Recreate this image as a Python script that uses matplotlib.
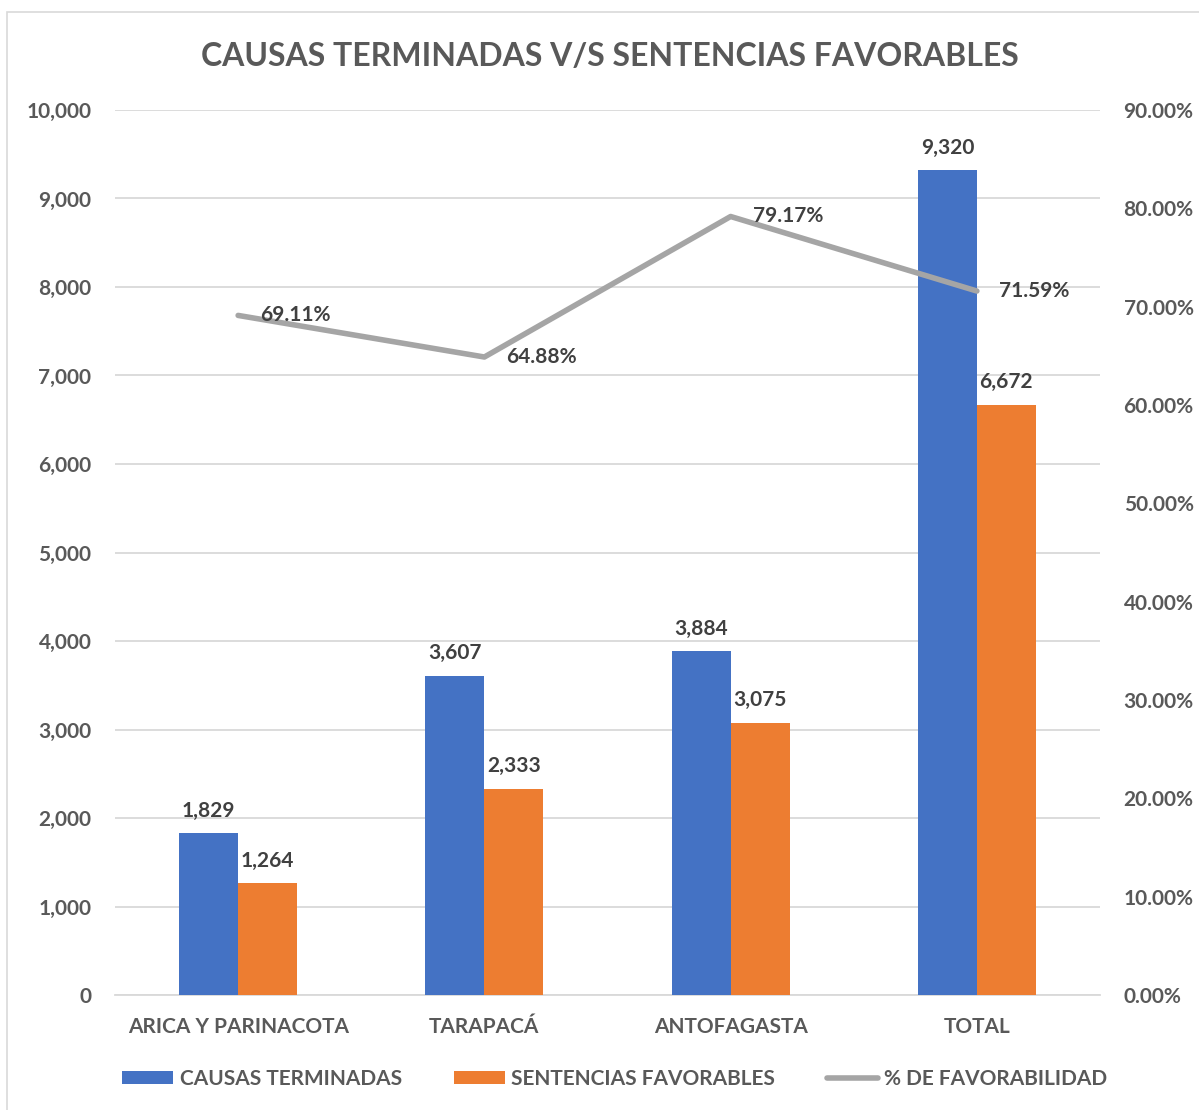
# Causas terminadas v/s sentencias favorables

import numpy as np
import matplotlib
matplotlib.use('Agg')
import matplotlib.pyplot as plt
from matplotlib.patches import Rectangle
from matplotlib.ticker import FuncFormatter

plt.rcParams['font.family'] = ['Lato', 'DejaVu Sans']
plt.rcParams['font.weight'] = 'bold'

# data
regiones = ['ARICA Y PARINACOTA', 'TARAPACÁ', 'ANTOFAGASTA', 'TOTAL']
causas = [1829, 3607, 3884, 9320]
sentencias = [1264, 2333, 3075, 6672]
favorabilidad = [69.11, 64.88, 79.17, 71.59]

azul = '#4472C4'
naranjo = '#ED7D31'
gris = '#A5A5A5'
txt = '#595959'
txt_dark = '#404040'

fig = plt.figure(figsize=(11.99, 11.10), dpi=100)
ax = fig.add_axes([115/1199, 1 - 995/1110, 985/1199, 885/1110])
ax2 = ax.twinx()

# chart border
fig.patches.append(Rectangle((7/1199, -0.1), 1.2, 1 - 12/1110 + 0.1,
                             transform=fig.transFigure, fill=False,
                             edgecolor='#D9D9D9', linewidth=1.2))

x = np.arange(len(regiones))
w = 0.24
b1 = ax.bar(x - w/2, causas, w, color=azul, label='CAUSAS TERMINADAS', zorder=3)
b2 = ax.bar(x + w/2, sentencias, w, color=naranjo, label='SENTENCIAS FAVORABLES', zorder=3)

ax.set_ylim(0, 10000)
ax.set_yticks(np.arange(0, 10001, 1000))
ax.yaxis.set_major_formatter(FuncFormatter(lambda v, p: f'{int(v):,}'))
ax.set_xlim(-0.5, 3.5)
ax.set_xticks(x)
ax.set_xticklabels(regiones)
ax.grid(axis='y', color='#D9D9D9', linewidth=1.3, zorder=0)
ax.set_axisbelow(True)

for s in ['top', 'right', 'left']:
    ax.spines[s].set_visible(False)
    ax2.spines[s].set_visible(False)
ax.spines['bottom'].set_color('#D9D9D9')
ax.spines['bottom'].set_linewidth(1.3)
ax2.spines['bottom'].set_visible(False)

ax.tick_params(axis='both', length=0, labelsize=15, labelcolor=txt)
ax.tick_params(axis='y', pad=17)
ax.tick_params(axis='x', pad=16)

for bars in (b1, b2):
    for b in bars:
        ax.annotate(f'{int(b.get_height()):,}', (b.get_x() + b.get_width()/2, b.get_height()),
                    xytext=(0, 9), textcoords='offset points', ha='center', va='bottom',
                    fontsize=15, color=txt_dark, fontweight='bold')

ln, = ax2.plot(x, favorabilidad, color=gris, linewidth=4, solid_capstyle='round',
               label='% DE FAVORABILIDAD', zorder=4)
ax2.set_ylim(0, 90)
ax2.set_yticks(np.arange(0, 91, 10))
ax2.yaxis.set_major_formatter(FuncFormatter(lambda v, p: f'{v:.2f}%'))
ax2.tick_params(axis='y', length=0, labelsize=15, labelcolor=txt, pad=17)

for xi, v in zip(x, favorabilidad):
    ax2.annotate(f'{v:.2f}%', (xi, v), xytext=(16, 0), textcoords='offset points',
                 ha='left', va='center', fontsize=15, color=txt_dark, fontweight='bold', zorder=5)

fig.suptitle('CAUSAS TERMINADAS V/S SENTENCIAS FAVORABLES', x=610/1199, y=1 - 57/1110,
             va='center', fontsize=23, color=txt, fontweight='bold')

fig.legend(handles=[b1, b2, ln], loc='center', bbox_to_anchor=(615/1199, 1 - 1079/1110),
           ncol=3, frameon=False, fontsize=15, labelcolor=txt, handlelength=2.45,
           handleheight=0.63, columnspacing=2.5, handletextpad=0.3)

fig.savefig('out.png', dpi=100)
